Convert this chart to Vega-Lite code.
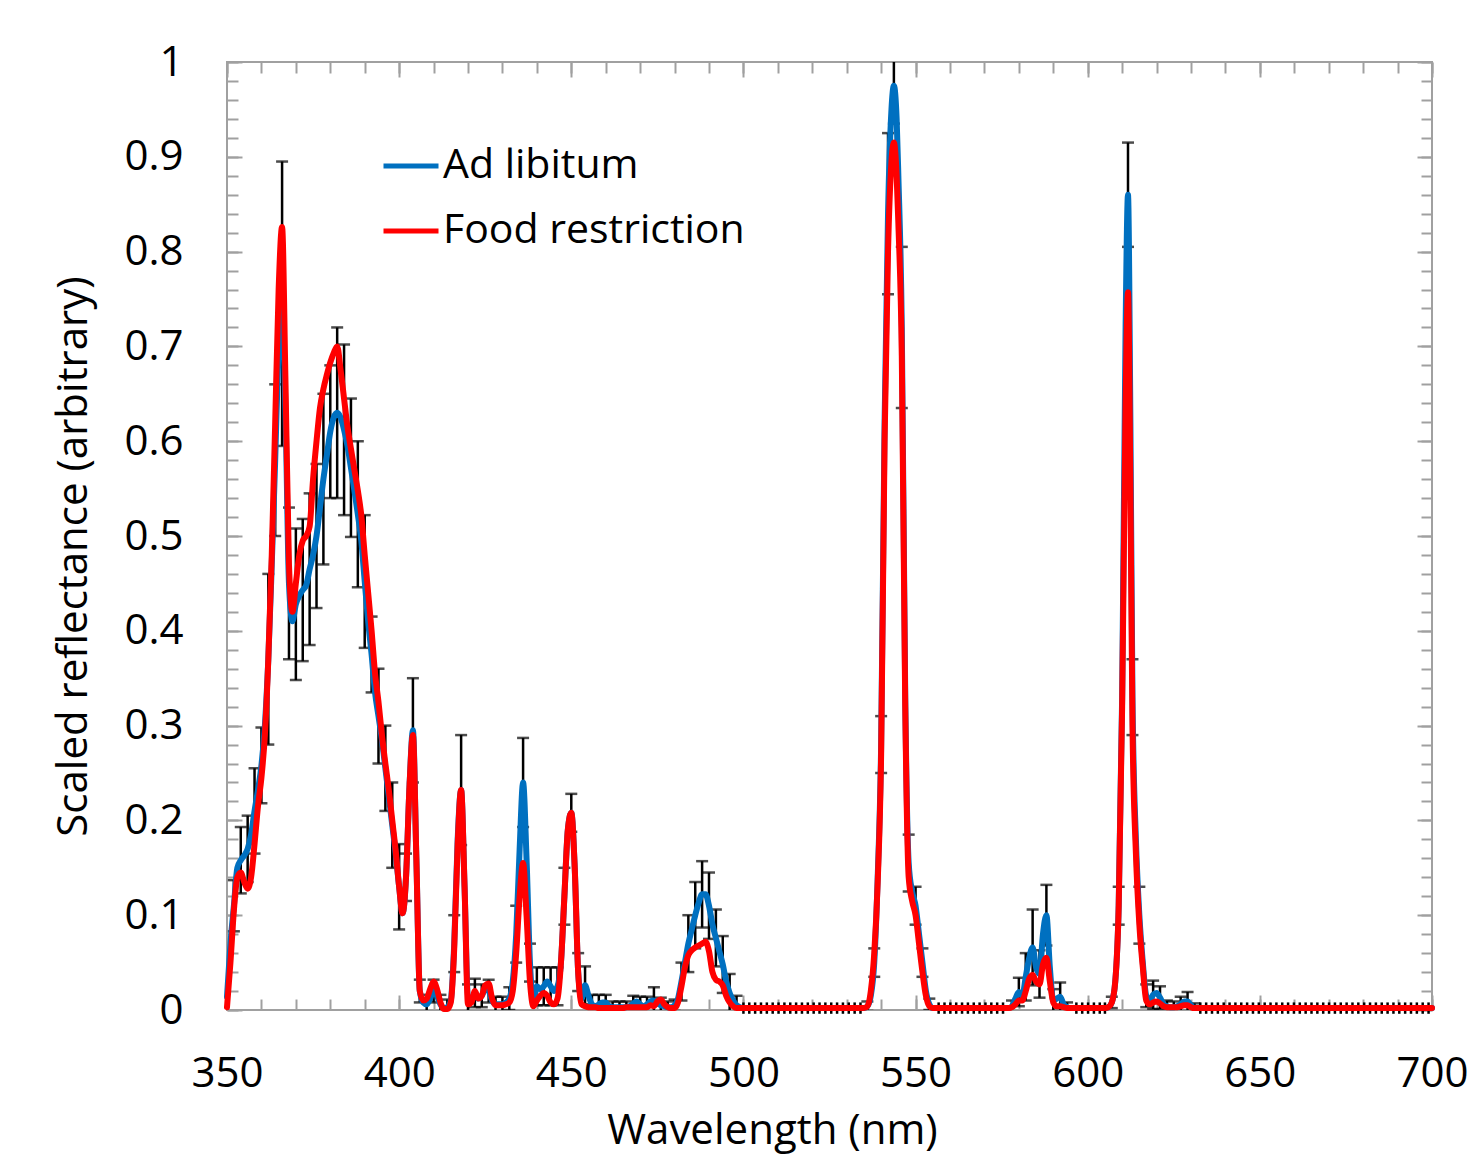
{
"$schema":"https://vega.github.io/schema/vega-lite/v6.json",
"width":1205,"height":948,
"autosize":{"type":"none"},
"padding":{"left":227,"top":62,"right":36,"bottom":145},
"background":"white",
"config":{"view":{"stroke":"#a0a0a0","strokeWidth":2},"font":"Open Sans"},
"data":{"values":[
{"wl":350,"adlib":0.014,"restr":0.003,"err":0.045},
{"wl":351,"adlib":0.07,"restr":0.05},
{"wl":352,"adlib":0.11,"restr":0.105,"err":0.027},
{"wl":353,"adlib":0.15,"restr":0.14},
{"wl":354,"adlib":0.158,"restr":0.145,"err":0.035},
{"wl":355,"adlib":0.163,"restr":0.135},
{"wl":356,"adlib":0.17,"restr":0.128,"err":0.035},
{"wl":357,"adlib":0.185,"restr":0.14},
{"wl":358,"adlib":0.21,"restr":0.175,"err":0.045},
{"wl":359,"adlib":0.232,"restr":0.215},
{"wl":360,"adlib":0.258,"restr":0.245,"err":0.04},
{"wl":361,"adlib":0.3,"restr":0.29},
{"wl":362,"adlib":0.37,"restr":0.37,"err":0.09},
{"wl":363,"adlib":0.47,"restr":0.48},
{"wl":364,"adlib":0.58,"restr":0.62,"err":0.08},
{"wl":365,"adlib":0.7,"restr":0.76},
{"wl":366,"adlib":0.745,"restr":0.826,"err":0.15},
{"wl":367,"adlib":0.63,"restr":0.66},
{"wl":368,"adlib":0.45,"restr":0.47,"err":0.08},
{"wl":369,"adlib":0.41,"restr":0.42},
{"wl":370,"adlib":0.428,"restr":0.45,"err":0.08},
{"wl":371,"adlib":0.437,"restr":0.48},
{"wl":372,"adlib":0.443,"restr":0.495,"err":0.075},
{"wl":373,"adlib":0.448,"restr":0.5},
{"wl":374,"adlib":0.465,"restr":0.51,"err":0.08},
{"wl":375,"adlib":0.48,"restr":0.56},
{"wl":376,"adlib":0.5,"restr":0.6,"err":0.076},
{"wl":377,"adlib":0.53,"restr":0.635},
{"wl":378,"adlib":0.56,"restr":0.655,"err":0.09},
{"wl":379,"adlib":0.585,"restr":0.67},
{"wl":380,"adlib":0.61,"restr":0.683,"err":0.07},
{"wl":381,"adlib":0.625,"restr":0.693},
{"wl":382,"adlib":0.63,"restr":0.7,"err":0.09},
{"wl":383,"adlib":0.625,"restr":0.675},
{"wl":384,"adlib":0.612,"restr":0.645,"err":0.09},
{"wl":385,"adlib":0.595,"restr":0.615},
{"wl":386,"adlib":0.572,"restr":0.592,"err":0.073},
{"wl":387,"adlib":0.548,"restr":0.57},
{"wl":388,"adlib":0.523,"restr":0.548,"err":0.077},
{"wl":389,"adlib":0.495,"restr":0.522},
{"wl":390,"adlib":0.452,"restr":0.48,"err":0.07},
{"wl":391,"adlib":0.41,"restr":0.44},
{"wl":392,"adlib":0.375,"restr":0.4,"err":0.04},
{"wl":393,"adlib":0.335,"restr":0.355},
{"wl":394,"adlib":0.31,"restr":0.325,"err":0.05},
{"wl":395,"adlib":0.285,"restr":0.29},
{"wl":396,"adlib":0.255,"restr":0.26,"err":0.045},
{"wl":397,"adlib":0.225,"restr":0.232},
{"wl":398,"adlib":0.195,"restr":0.2,"err":0.045},
{"wl":399,"adlib":0.165,"restr":0.168},
{"wl":400,"adlib":0.13,"restr":0.13,"err":0.045},
{"wl":401,"adlib":0.102,"restr":0.102},
{"wl":402,"adlib":0.14,"restr":0.14,"err":0.025},
{"wl":403,"adlib":0.235,"restr":0.235},
{"wl":404,"adlib":0.295,"restr":0.29,"err":0.055},
{"wl":405,"adlib":0.16,"restr":0.16},
{"wl":406,"adlib":0.02,"restr":0.02,"err":0.012},
{"wl":407,"adlib":0.008,"restr":0.01},
{"wl":408,"adlib":0.006,"restr":0.012,"err":0.01},
{"wl":409,"adlib":0.012,"restr":0.022},
{"wl":410,"adlib":0.02,"restr":0.03,"err":0.012},
{"wl":411,"adlib":0.015,"restr":0.022},
{"wl":412,"adlib":0.006,"restr":0.008,"err":0.01},
{"wl":413,"adlib":0.002,"restr":0.001},
{"wl":414,"adlib":0.003,"restr":0.001,"err":0.008},
{"wl":415,"adlib":0.01,"restr":0.008},
{"wl":416,"adlib":0.07,"restr":0.065,"err":0.03},
{"wl":417,"adlib":0.18,"restr":0.175},
{"wl":418,"adlib":0.232,"restr":0.232,"err":0.058},
{"wl":419,"adlib":0.13,"restr":0.13},
{"wl":420,"adlib":0.012,"restr":0.006,"err":0.015},
{"wl":421,"adlib":0.01,"restr":0.008},
{"wl":422,"adlib":0.018,"restr":0.02,"err":0.015},
{"wl":423,"adlib":0.012,"restr":0.012},
{"wl":424,"adlib":0.015,"restr":0.015,"err":0.012},
{"wl":425,"adlib":0.022,"restr":0.026},
{"wl":426,"adlib":0.02,"restr":0.028,"err":0.012},
{"wl":427,"adlib":0.01,"restr":0.012},
{"wl":428,"adlib":0.006,"restr":0.005,"err":0.008},
{"wl":429,"adlib":0.006,"restr":0.005},
{"wl":430,"adlib":0.006,"restr":0.005,"err":0.008},
{"wl":431,"adlib":0.008,"restr":0.006},
{"wl":432,"adlib":0.012,"restr":0.008,"err":0.012},
{"wl":433,"adlib":0.03,"restr":0.02},
{"wl":434,"adlib":0.08,"restr":0.06,"err":0.03},
{"wl":435,"adlib":0.17,"restr":0.12},
{"wl":436,"adlib":0.24,"restr":0.155,"err":0.047},
{"wl":437,"adlib":0.16,"restr":0.1},
{"wl":438,"adlib":0.05,"restr":0.03,"err":0.02},
{"wl":439,"adlib":0.01,"restr":0.004},
{"wl":440,"adlib":0.025,"restr":0.01,"err":0.02},
{"wl":441,"adlib":0.022,"restr":0.015},
{"wl":442,"adlib":0.025,"restr":0.018,"err":0.02},
{"wl":443,"adlib":0.03,"restr":0.015},
{"wl":444,"adlib":0.025,"restr":0.008,"err":0.02},
{"wl":445,"adlib":0.02,"restr":0.006},
{"wl":446,"adlib":0.025,"restr":0.012,"err":0.02},
{"wl":447,"adlib":0.05,"restr":0.05},
{"wl":448,"adlib":0.12,"restr":0.12,"err":0.03},
{"wl":449,"adlib":0.19,"restr":0.19},
{"wl":450,"adlib":0.208,"restr":0.208,"err":0.02},
{"wl":451,"adlib":0.15,"restr":0.15},
{"wl":452,"adlib":0.04,"restr":0.04,"err":0.02},
{"wl":453,"adlib":0.012,"restr":0.006},
{"wl":454,"adlib":0.026,"restr":0.004,"err":0.02},
{"wl":455,"adlib":0.015,"restr":0.003},
{"wl":456,"adlib":0.006,"restr":0.003,"err":0.01},
{"wl":457,"adlib":0.004,"restr":0.003},
{"wl":458,"adlib":0.006,"restr":0.002,"err":0.01},
{"wl":459,"adlib":0.008,"restr":0.002},
{"wl":460,"adlib":0.008,"restr":0.002,"err":0.008},
{"wl":461,"adlib":0.004,"restr":0.002},
{"wl":462,"adlib":0.003,"restr":0.002,"err":0.006},
{"wl":463,"adlib":0.003,"restr":0.002},
{"wl":464,"adlib":0.003,"restr":0.002,"err":0.006},
{"wl":465,"adlib":0.003,"restr":0.002},
{"wl":466,"adlib":0.003,"restr":0.003,"err":0.006},
{"wl":467,"adlib":0.004,"restr":0.003},
{"wl":468,"adlib":0.007,"restr":0.003,"err":0.008},
{"wl":469,"adlib":0.009,"restr":0.003},
{"wl":470,"adlib":0.006,"restr":0.003,"err":0.008},
{"wl":471,"adlib":0.004,"restr":0.003},
{"wl":472,"adlib":0.006,"restr":0.003,"err":0.008},
{"wl":473,"adlib":0.009,"restr":0.005},
{"wl":474,"adlib":0.01,"restr":0.004,"err":0.014},
{"wl":475,"adlib":0.007,"restr":0.009},
{"wl":476,"adlib":0.005,"restr":0.011,"err":0.008},
{"wl":477,"adlib":0.004,"restr":0.006},
{"wl":478,"adlib":0.003,"restr":0.003,"err":0.006},
{"wl":479,"adlib":0.003,"restr":0.002},
{"wl":480,"adlib":0.005,"restr":0.002,"err":0.006},
{"wl":481,"adlib":0.012,"restr":0.008},
{"wl":482,"adlib":0.03,"restr":0.025,"err":0.02},
{"wl":483,"adlib":0.05,"restr":0.045},
{"wl":484,"adlib":0.07,"restr":0.058,"err":0.03},
{"wl":485,"adlib":0.085,"restr":0.063},
{"wl":486,"adlib":0.1,"restr":0.066,"err":0.035},
{"wl":487,"adlib":0.113,"restr":0.068},
{"wl":488,"adlib":0.122,"restr":0.07,"err":0.035},
{"wl":489,"adlib":0.122,"restr":0.072},
{"wl":490,"adlib":0.11,"restr":0.062,"err":0.035},
{"wl":491,"adlib":0.09,"restr":0.04},
{"wl":492,"adlib":0.076,"restr":0.032,"err":0.03},
{"wl":493,"adlib":0.062,"restr":0.03},
{"wl":494,"adlib":0.048,"restr":0.026,"err":0.03},
{"wl":495,"adlib":0.03,"restr":0.015},
{"wl":496,"adlib":0.018,"restr":0.008,"err":0.02},
{"wl":497,"adlib":0.01,"restr":0.004},
{"wl":498,"adlib":0.005,"restr":0.002,"err":0.01},
{"wl":499,"adlib":0.003,"restr":0.002},
{"wl":500,"adlib":0.002,"restr":0.002,"sd":0.006},
{"wl":501.7,"adlib":0.002,"restr":0.002,"sd":0.006},
{"wl":503.4,"adlib":0.002,"restr":0.002,"sd":0.006},
{"wl":505.1,"adlib":0.002,"restr":0.002,"sd":0.006},
{"wl":506.8,"adlib":0.002,"restr":0.002,"sd":0.006},
{"wl":508.5,"adlib":0.002,"restr":0.002,"sd":0.006},
{"wl":510.2,"adlib":0.002,"restr":0.002,"sd":0.006},
{"wl":511.9,"adlib":0.002,"restr":0.002,"sd":0.006},
{"wl":513.6,"adlib":0.002,"restr":0.002,"sd":0.006},
{"wl":515.3,"adlib":0.002,"restr":0.002,"sd":0.006},
{"wl":517,"adlib":0.002,"restr":0.002,"sd":0.006},
{"wl":518.7,"adlib":0.002,"restr":0.002,"sd":0.006},
{"wl":520.4,"adlib":0.002,"restr":0.002,"sd":0.006},
{"wl":522.1,"adlib":0.002,"restr":0.002,"sd":0.006},
{"wl":523.8,"adlib":0.002,"restr":0.002,"sd":0.006},
{"wl":525.5,"adlib":0.002,"restr":0.002,"sd":0.006},
{"wl":527.2,"adlib":0.002,"restr":0.002,"sd":0.006},
{"wl":528.9,"adlib":0.002,"restr":0.002,"sd":0.006},
{"wl":530.6,"adlib":0.002,"restr":0.002,"sd":0.006},
{"wl":532.3,"adlib":0.002,"restr":0.002,"sd":0.006},
{"wl":534,"adlib":0.002,"restr":0.002,"sd":0.006},
{"wl":535,"adlib":0.002,"restr":0.002},
{"wl":536,"adlib":0.004,"restr":0.004,"err":0.005},
{"wl":537,"adlib":0.015,"restr":0.02},
{"wl":538,"adlib":0.05,"restr":0.06,"err":0.015},
{"wl":539,"adlib":0.14,"restr":0.135},
{"wl":540,"adlib":0.28,"restr":0.27,"err":0.03},
{"wl":541,"adlib":0.62,"restr":0.6},
{"wl":542,"adlib":0.84,"restr":0.8,"err":0.085},
{"wl":543,"adlib":0.95,"restr":0.895},
{"wl":543.7,"adlib":0.975,"restr":0.915,"err":0.04},
{"wl":544.5,"adlib":0.94,"restr":0.88},
{"wl":545,"adlib":0.88,"restr":0.83},
{"wl":546,"adlib":0.72,"restr":0.69,"err":0.085},
{"wl":547,"adlib":0.33,"restr":0.32},
{"wl":548,"adlib":0.155,"restr":0.14,"err":0.03},
{"wl":549,"adlib":0.125,"restr":0.115},
{"wl":550,"adlib":0.11,"restr":0.1,"err":0.02},
{"wl":551,"adlib":0.08,"restr":0.07},
{"wl":552,"adlib":0.05,"restr":0.04,"err":0.015},
{"wl":553,"adlib":0.02,"restr":0.015},
{"wl":554,"adlib":0.006,"restr":0.004,"err":0.006},
{"wl":555,"adlib":0.002,"restr":0.002},
{"wl":556.7,"adlib":0.002,"restr":0.002,"sd":0.006},
{"wl":558.4,"adlib":0.002,"restr":0.002,"sd":0.006},
{"wl":560.1,"adlib":0.002,"restr":0.002,"sd":0.006},
{"wl":561.8,"adlib":0.002,"restr":0.002,"sd":0.006},
{"wl":563.5,"adlib":0.002,"restr":0.002,"sd":0.006},
{"wl":565.2,"adlib":0.002,"restr":0.002,"sd":0.006},
{"wl":566.9,"adlib":0.002,"restr":0.002,"sd":0.006},
{"wl":568.6,"adlib":0.002,"restr":0.002,"sd":0.006},
{"wl":570.3,"adlib":0.002,"restr":0.002,"sd":0.006},
{"wl":572,"adlib":0.002,"restr":0.002,"sd":0.006},
{"wl":573.7,"adlib":0.002,"restr":0.002,"sd":0.006},
{"wl":575.4,"adlib":0.002,"restr":0.002,"sd":0.006},
{"wl":577,"adlib":0.002,"restr":0.002},
{"wl":578,"adlib":0.004,"restr":0.003,"err":0.006},
{"wl":579,"adlib":0.012,"restr":0.006},
{"wl":580,"adlib":0.019,"restr":0.01,"err":0.015},
{"wl":581,"adlib":0.015,"restr":0.01},
{"wl":582,"adlib":0.035,"restr":0.02,"err":0.025},
{"wl":583,"adlib":0.055,"restr":0.033},
{"wl":584,"adlib":0.066,"restr":0.037,"err":0.04},
{"wl":585,"adlib":0.045,"restr":0.03},
{"wl":586,"adlib":0.038,"restr":0.027,"err":0.025},
{"wl":587,"adlib":0.08,"restr":0.048},
{"wl":588,"adlib":0.1,"restr":0.055,"err":0.032},
{"wl":589,"adlib":0.045,"restr":0.03},
{"wl":590,"adlib":0.01,"restr":0.008,"err":0.012},
{"wl":591,"adlib":0.012,"restr":0.004},
{"wl":592,"adlib":0.014,"restr":0.004,"err":0.015},
{"wl":593,"adlib":0.006,"restr":0.003},
{"wl":594,"adlib":0.003,"restr":0.002,"err":0.005},
{"wl":595,"adlib":0.002,"restr":0.002},
{"wl":596.7,"adlib":0.002,"restr":0.002,"sd":0.006},
{"wl":598.4,"adlib":0.002,"restr":0.002,"sd":0.006},
{"wl":600.1,"adlib":0.002,"restr":0.002,"sd":0.006},
{"wl":601.8,"adlib":0.002,"restr":0.002,"sd":0.006},
{"wl":603.5,"adlib":0.002,"restr":0.002,"sd":0.006},
{"wl":605,"adlib":0.002,"restr":0.002,"sd":0.006},
{"wl":606,"adlib":0.003,"restr":0.003},
{"wl":607,"adlib":0.008,"restr":0.008,"err":0.006},
{"wl":608,"adlib":0.03,"restr":0.03},
{"wl":609,"adlib":0.11,"restr":0.11,"err":0.02},
{"wl":610,"adlib":0.33,"restr":0.32},
{"wl":611,"adlib":0.72,"restr":0.64},
{"wl":611.7,"adlib":0.86,"restr":0.757,"err":0.055},
{"wl":612.4,"adlib":0.62,"restr":0.55},
{"wl":613,"adlib":0.33,"restr":0.3,"err":0.04},
{"wl":614,"adlib":0.18,"restr":0.165},
{"wl":615,"adlib":0.1,"restr":0.09,"err":0.03},
{"wl":616,"adlib":0.05,"restr":0.045},
{"wl":617,"adlib":0.015,"restr":0.01,"err":0.012},
{"wl":618,"adlib":0.01,"restr":0.006},
{"wl":619,"adlib":0.016,"restr":0.008,"err":0.015},
{"wl":620,"adlib":0.018,"restr":0.009},
{"wl":621,"adlib":0.013,"restr":0.007,"err":0.012},
{"wl":622,"adlib":0.006,"restr":0.004},
{"wl":623,"adlib":0.004,"restr":0.003,"err":0.006},
{"wl":624,"adlib":0.003,"restr":0.003},
{"wl":625,"adlib":0.003,"restr":0.003,"err":0.006},
{"wl":626,"adlib":0.004,"restr":0.003},
{"wl":627,"adlib":0.006,"restr":0.004,"err":0.008},
{"wl":628,"adlib":0.009,"restr":0.005},
{"wl":629,"adlib":0.009,"restr":0.005,"err":0.01},
{"wl":630,"adlib":0.005,"restr":0.003},
{"wl":631,"adlib":0.002,"restr":0.002,"err":0.005},
{"wl":632.7,"adlib":0.002,"restr":0.002,"sd":0.006},
{"wl":634.4,"adlib":0.002,"restr":0.002,"sd":0.006},
{"wl":636.1,"adlib":0.002,"restr":0.002,"sd":0.006},
{"wl":637.8,"adlib":0.002,"restr":0.002,"sd":0.006},
{"wl":639.5,"adlib":0.002,"restr":0.002,"sd":0.006},
{"wl":641.2,"adlib":0.002,"restr":0.002,"sd":0.006},
{"wl":642.9,"adlib":0.002,"restr":0.002,"sd":0.006},
{"wl":644.6,"adlib":0.002,"restr":0.002,"sd":0.006},
{"wl":646.3,"adlib":0.002,"restr":0.002,"sd":0.006},
{"wl":648,"adlib":0.002,"restr":0.002,"sd":0.006},
{"wl":649.7,"adlib":0.002,"restr":0.002,"sd":0.006},
{"wl":651.4,"adlib":0.002,"restr":0.002,"sd":0.006},
{"wl":653.1,"adlib":0.002,"restr":0.002,"sd":0.006},
{"wl":654.8,"adlib":0.002,"restr":0.002,"sd":0.006},
{"wl":656.5,"adlib":0.002,"restr":0.002,"sd":0.006},
{"wl":658.2,"adlib":0.002,"restr":0.002,"sd":0.006},
{"wl":659.9,"adlib":0.002,"restr":0.002,"sd":0.006},
{"wl":661.6,"adlib":0.002,"restr":0.002,"sd":0.006},
{"wl":663.3,"adlib":0.002,"restr":0.002,"sd":0.006},
{"wl":665,"adlib":0.002,"restr":0.002,"sd":0.006},
{"wl":666.7,"adlib":0.002,"restr":0.002,"sd":0.006},
{"wl":668.4,"adlib":0.002,"restr":0.002,"sd":0.006},
{"wl":670.1,"adlib":0.002,"restr":0.002,"sd":0.006},
{"wl":671.8,"adlib":0.002,"restr":0.002,"sd":0.006},
{"wl":673.5,"adlib":0.002,"restr":0.002,"sd":0.006},
{"wl":675.2,"adlib":0.002,"restr":0.002,"sd":0.006},
{"wl":676.9,"adlib":0.002,"restr":0.002,"sd":0.006},
{"wl":678.6,"adlib":0.002,"restr":0.002,"sd":0.006},
{"wl":680.3,"adlib":0.002,"restr":0.002,"sd":0.006},
{"wl":682,"adlib":0.002,"restr":0.002,"sd":0.006},
{"wl":683.7,"adlib":0.002,"restr":0.002,"sd":0.006},
{"wl":685.4,"adlib":0.002,"restr":0.002,"sd":0.006},
{"wl":687.1,"adlib":0.002,"restr":0.002,"sd":0.006},
{"wl":688.8,"adlib":0.002,"restr":0.002,"sd":0.006},
{"wl":690.5,"adlib":0.002,"restr":0.002,"sd":0.006},
{"wl":692.2,"adlib":0.002,"restr":0.002,"sd":0.006},
{"wl":693.9,"adlib":0.002,"restr":0.002,"sd":0.006},
{"wl":695.6,"adlib":0.002,"restr":0.002,"sd":0.006},
{"wl":697.3,"adlib":0.002,"restr":0.002,"sd":0.006},
{"wl":699,"adlib":0.002,"restr":0.002,"sd":0.006},
{"wl":700,"adlib":0.002,"restr":0.002}
]},
"resolve":{"axis":{"x":"independent","y":"independent"}},
"layer":[
{"transform":[{"filter":"isValid(datum.err)"}],
 "mark":{"type":"errorbar","color":"black","ticks":true,"size":12,"thickness":2.5,"clip":true},
 "encoding":{
  "x":{"field":"wl","type":"quantitative","scale":{"domain":[350,700],"nice":false,"zero":false},
   "axis":{"orient":"bottom","values":[350,400,450,500,550,600,650,700],"format":"d","ticks":false,"domain":false,"grid":false,"labelPadding":43,"labelFontSize":42,"labelFont":"Open Sans","labelColor":"black","labelFlush":false,"title":"Wavelength (nm)","titleX":545,"titleFontSize":42,"titleFont":"Open Sans","titleFontWeight":"normal","titleColor":"black","titlePadding":16}},
  "y":{"field":"adlib","type":"quantitative","scale":{"domain":[0,1],"nice":false,"zero":false},
   "axis":{"orient":"left","values":[0,0.1,0.2,0.3,0.4,0.5,0.6,0.7,0.8,0.9,1],"format":"~g","ticks":false,"domain":false,"grid":false,"labelPadding":44,"labelFontSize":42,"labelFont":"Open Sans","labelColor":"black","labelFlush":false,"title":"Scaled reflectance (arbitrary)","titleY":494,"titleFontSize":42,"titleFont":"Open Sans","titleFontWeight":"normal","titleColor":"black","titlePadding":28}},
  "yError":{"field":"err"}
 }},
{"transform":[{"filter":"isValid(datum.sd)"}],
 "mark":{"type":"errorbar","color":"black","ticks":false,"thickness":2.5},
 "encoding":{
  "x":{"field":"wl","type":"quantitative","scale":{"domain":[350,700],"nice":false,"zero":false},"axis":null},
  "y":{"field":"adlib","type":"quantitative","scale":{"domain":[0,1],"nice":false,"zero":false},"axis":null},
  "yError":{"field":"sd"}
 }},
{"mark":{"type":"line","interpolate":"monotone","strokeWidth":6,"strokeJoin":"round","strokeCap":"round"},
 "encoding":{
  "x":{"field":"wl","type":"quantitative","scale":{"domain":[350,700],"nice":false,"zero":false},
   "axis":{"orient":"bottom","values":[350,360,370,380,390,400,410,420,430,440,450,460,470,480,490,500,510,520,530,540,550,560,570,580,590,600,610,620,630,640,650,660,670,680,690,700],"labels":false,"domain":false,"grid":false,"tickSize":-11,"tickWidth":2,"tickColor":"#a0a0a0","title":null}},
  "y":{"field":"adlib","type":"quantitative","scale":{"domain":[0,1],"nice":false,"zero":false},
   "axis":{"orient":"left","values":[0,0.02,0.04,0.06,0.08,0.1,0.12,0.14,0.16,0.18,0.2,0.22,0.24,0.26,0.28,0.3,0.32,0.34,0.36,0.38,0.4,0.42,0.44,0.46,0.48,0.5,0.52,0.54,0.56,0.58,0.6,0.62,0.64,0.66,0.68,0.7,0.72,0.74,0.76,0.78,0.8,0.82,0.84,0.86,0.88,0.9,0.92,0.94,0.96,0.98,1],"labels":false,"domain":false,"grid":false,"tickSize":-11,"tickWidth":2,"tickColor":"#a0a0a0","title":null}},
  "color":{"datum":"Ad libitum","type":"nominal","scale":{"domain":["Ad libitum","Food restriction"],"range":["#0070C0","#FF0000"]},
   "legend":{"orient":"none","legendX":154,"legendY":74,"title":null,"symbolType":"stroke","symbolSize":3025,"symbolStrokeWidth":5,"labelFontSize":41,"labelFont":"Open Sans","labelColor":"black","labelOffset":2,"labelLimit":800,"rowPadding":15,"padding":0}}
 }},
{"mark":{"type":"line","interpolate":"monotone","strokeWidth":6,"strokeJoin":"round","strokeCap":"round"},
 "encoding":{
  "x":{"field":"wl","type":"quantitative","scale":{"domain":[350,700],"nice":false,"zero":false},
   "axis":{"orient":"top","values":[350,360,370,380,390,400,410,420,430,440,450,460,470,480,490,500,510,520,530,540,550,560,570,580,590,600,610,620,630,640,650,660,670,680,690,700],"labels":false,"domain":false,"grid":false,"tickSize":-11,"tickWidth":2,"tickColor":"#a0a0a0","title":null}},
  "y":{"field":"restr","type":"quantitative","scale":{"domain":[0,1],"nice":false,"zero":false},
   "axis":{"orient":"right","values":[0,0.02,0.04,0.06,0.08,0.1,0.12,0.14,0.16,0.18,0.2,0.22,0.24,0.26,0.28,0.3,0.32,0.34,0.36,0.38,0.4,0.42,0.44,0.46,0.48,0.5,0.52,0.54,0.56,0.58,0.6,0.62,0.64,0.66,0.68,0.7,0.72,0.74,0.76,0.78,0.8,0.82,0.84,0.86,0.88,0.9,0.92,0.94,0.96,0.98,1],"labels":false,"domain":false,"grid":false,"tickSize":-11,"tickWidth":2,"tickColor":"#a0a0a0","title":null}},
  "color":{"datum":"Food restriction","type":"nominal"}
 }},
{"mark":{"type":"line","opacity":0},
 "encoding":{
  "x":{"field":"wl","type":"quantitative","scale":{"domain":[350,700],"nice":false,"zero":false},
   "axis":{"orient":"bottom","values":[350,400,450,500,550,600,650,700],"labels":false,"domain":false,"grid":false,"tickSize":-15,"tickWidth":2,"tickColor":"#a0a0a0","title":null}},
  "y":{"field":"restr","type":"quantitative","scale":{"domain":[0,1],"nice":false,"zero":false},
   "axis":{"orient":"left","values":[0,0.1,0.2,0.3,0.4,0.5,0.6,0.7,0.8,0.9,1],"labels":false,"domain":false,"grid":false,"tickSize":-15,"tickWidth":2,"tickColor":"#a0a0a0","title":null}}
 }},
{"mark":{"type":"line","opacity":0},
 "encoding":{
  "x":{"field":"wl","type":"quantitative","scale":{"domain":[350,700],"nice":false,"zero":false},
   "axis":{"orient":"top","values":[350,400,450,500,550,600,650,700],"labels":false,"domain":false,"grid":false,"tickSize":-15,"tickWidth":2,"tickColor":"#a0a0a0","title":null}},
  "y":{"field":"restr","type":"quantitative","scale":{"domain":[0,1],"nice":false,"zero":false},
   "axis":{"orient":"right","values":[0,0.1,0.2,0.3,0.4,0.5,0.6,0.7,0.8,0.9,1],"labels":false,"domain":false,"grid":false,"tickSize":-15,"tickWidth":2,"tickColor":"#a0a0a0","title":null}}
 }}
]
}
